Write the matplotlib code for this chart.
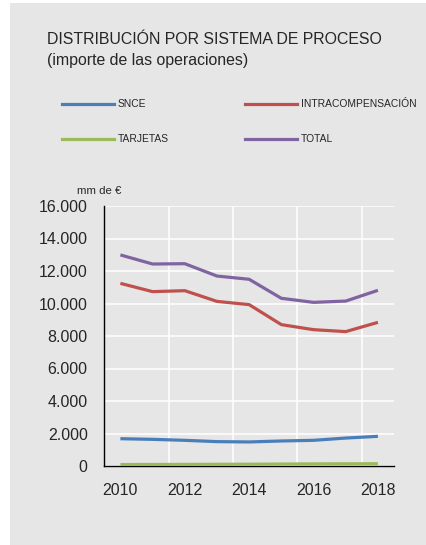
import matplotlib.pyplot as plt
from matplotlib.ticker import FuncFormatter
from matplotlib.lines import Line2D
from matplotlib.patches import Rectangle

years = [2010, 2011, 2012, 2013, 2014, 2015, 2016, 2017, 2018]
snce = [1680, 1640, 1580, 1500, 1480, 1540, 1580, 1720, 1825]
intracompensacion = [11240, 10730, 10790, 10130, 9930, 8700, 8390, 8270, 8840]
tarjetas = [90, 95, 100, 105, 110, 120, 130, 135, 140]
total = [12990, 12430, 12450, 11690, 11490, 10320, 10070, 10150, 10810]

series = [
    ("SNCE", snce, "#4a7ebb"),
    ("INTRACOMPENSACIÓN", intracompensacion, "#c0504d"),
    ("TARJETAS", tarjetas, "#9bbb59"),
    ("TOTAL", total, "#8064a2"),
]

W, H = 427, 545
BG = "#e6e6e6"
TXT = "#262626"

plt.rcParams["font.family"] = ["Liberation Sans", "DejaVu Sans"]

fig = plt.figure(figsize=(W / 100, H / 100), dpi=100)
fig.patch.set_facecolor("white")
fig.add_artist(Rectangle((10 / W, 0), 1 - 10 / W, 1 - 3 / H, transform=fig.transFigure,
                         facecolor=BG, edgecolor="none", zorder=-10))

ax = fig.add_axes([104.3 / W, 1 - 466 / H, (394 - 104.3) / W, (466 - 206) / H])
ax.set_facecolor(BG)

for name, vals, color in series:
    ax.plot(years, vals, color=color, lw=2.3, solid_capstyle="butt", zorder=3)

ax.set_xlim(2009.5, 2018.5)
ax.set_ylim(0, 16000)
ax.set_yticks(range(0, 16001, 2000))
ax.yaxis.set_major_formatter(FuncFormatter(lambda v, _: f"{int(v):,}".replace(",", ".")))
ax.set_xticks([2010, 2012, 2014, 2016, 2018])
ax.set_xticks([2011.5, 2013.5, 2015.5, 2017.5], minor=True)
ax.tick_params(axis="both", which="both", length=0, labelsize=11.5, labelcolor=TXT)
ax.tick_params(axis="y", pad=12)
ax.tick_params(axis="x", pad=12)

ax.grid(axis="y", which="major", color="white", lw=1.1, zorder=0)
ax.grid(axis="x", which="minor", color="white", lw=1.1, zorder=0)
ax.grid(axis="x", which="major", visible=False)

for side in ("top", "right"):
    ax.spines[side].set_visible(False)
ax.spines["left"].set_color("black")
ax.spines["bottom"].set_color("black")
ax.spines["left"].set_linewidth(1.0)
ax.spines["bottom"].set_linewidth(1.0)

fig.text(47 / W, 1 - 39 / H, "DISTRIBUCIÓN POR SISTEMA DE PROCESO", fontsize=11.4,
         color=TXT, va="center", ha="left")
fig.text(47 / W, 1 - 61 / H, "(importe de las operaciones)", fontsize=11.4,
         color=TXT, va="center", ha="left")

legend_pos = [(62, 104), (245, 104), (62, 139), (245, 139)]
for (name, vals, color), (lx, ly) in zip(series, legend_pos):
    fig.add_artist(Line2D([lx / W, (lx + 52) / W], [1 - ly / H, 1 - ly / H],
                          transform=fig.transFigure, color=color, lw=2.3))
    fig.text((lx + 56) / W, 1 - ly / H, name, fontsize=7.4, color=TXT,
             va="center", ha="left")

fig.text(77 / W, 1 - 191 / H, "mm de €", fontsize=8.2, color=TXT, va="center", ha="left")

fig.savefig("out.png", dpi=100, facecolor=fig.get_facecolor())
